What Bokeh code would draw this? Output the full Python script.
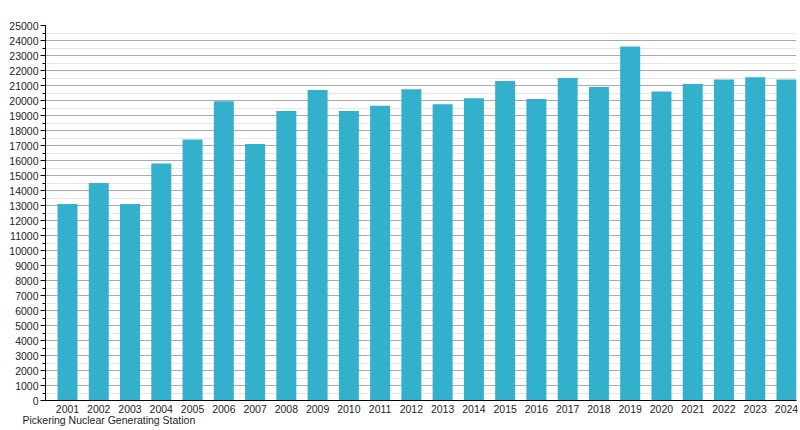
from bokeh.plotting import figure
from bokeh.models import Range1d, SingleIntervalTicker, FixedTicker, Title
from bokeh.embed import file_html
from bokeh.resources import INLINE

years = list(range(2001, 2025))
values = [13100, 14500, 13100, 15800, 17400, 19950, 17100, 19300, 20700, 19300,
          19650, 20750, 19750, 20150, 21300, 20100, 21500, 20900, 23600, 20600,
          21100, 21400, 21550, 21400]
station = "Pickering Nuclear Generating Station"

FONT = "Liberation Sans"
FS = "10.5px"

p = figure(width=800, height=430, output_backend="svg", toolbar_location=None,
           x_range=Range1d(2000.296, 2024.32), y_range=Range1d(0, 25000),
           min_border_left=45, min_border_right=4, min_border_top=25, min_border_bottom=30)
p.outline_line_color = None
p.background_fill_color = "white"
p.border_fill_color = "white"

p.vbar(x=years, top=values, width=0.64, bottom=0, fill_color="#33b1cc", line_color=None)

# y axis
p.yaxis.ticker = SingleIntervalTicker(interval=1000, num_minor_ticks=2)
p.yaxis.major_tick_out = 5
p.yaxis.major_tick_in = 0
p.yaxis.minor_tick_out = 3
p.yaxis.minor_tick_in = 0
p.yaxis.major_label_standoff = 2
p.yaxis.major_label_text_font = FONT
p.yaxis.major_label_text_font_size = FS
p.yaxis.major_label_text_color = "#222222"
p.yaxis.axis_line_color = "black"
p.yaxis.major_tick_line_color = "black"
p.yaxis.minor_tick_line_color = "black"

# x axis
p.xaxis.ticker = FixedTicker(ticks=years, minor_ticks=[])
p.xaxis.major_tick_out = 0
p.xaxis.major_tick_in = 0
p.xaxis.minor_tick_out = 0
p.xaxis.minor_tick_in = 0
p.xaxis.major_label_standoff = 4
p.xaxis.major_label_text_font = FONT
p.xaxis.major_label_text_font_size = FS
p.xaxis.major_label_text_color = "#222222"
p.xaxis.axis_line_color = "black"

# grids
p.xgrid.grid_line_color = None
p.ygrid.ticker = SingleIntervalTicker(interval=1000, num_minor_ticks=2)
p.ygrid.grid_line_color = "#aaaaaa"
p.ygrid.minor_grid_line_color = "#e6e6e6"

t = Title(text=station, align="left", offset=-23, text_font=FONT,
          text_font_size=FS, text_font_style="normal", text_color="#222222",
          standoff=-7)
p.add_layout(t, "below")

open("out.html", "w").write(file_html(p, INLINE))
